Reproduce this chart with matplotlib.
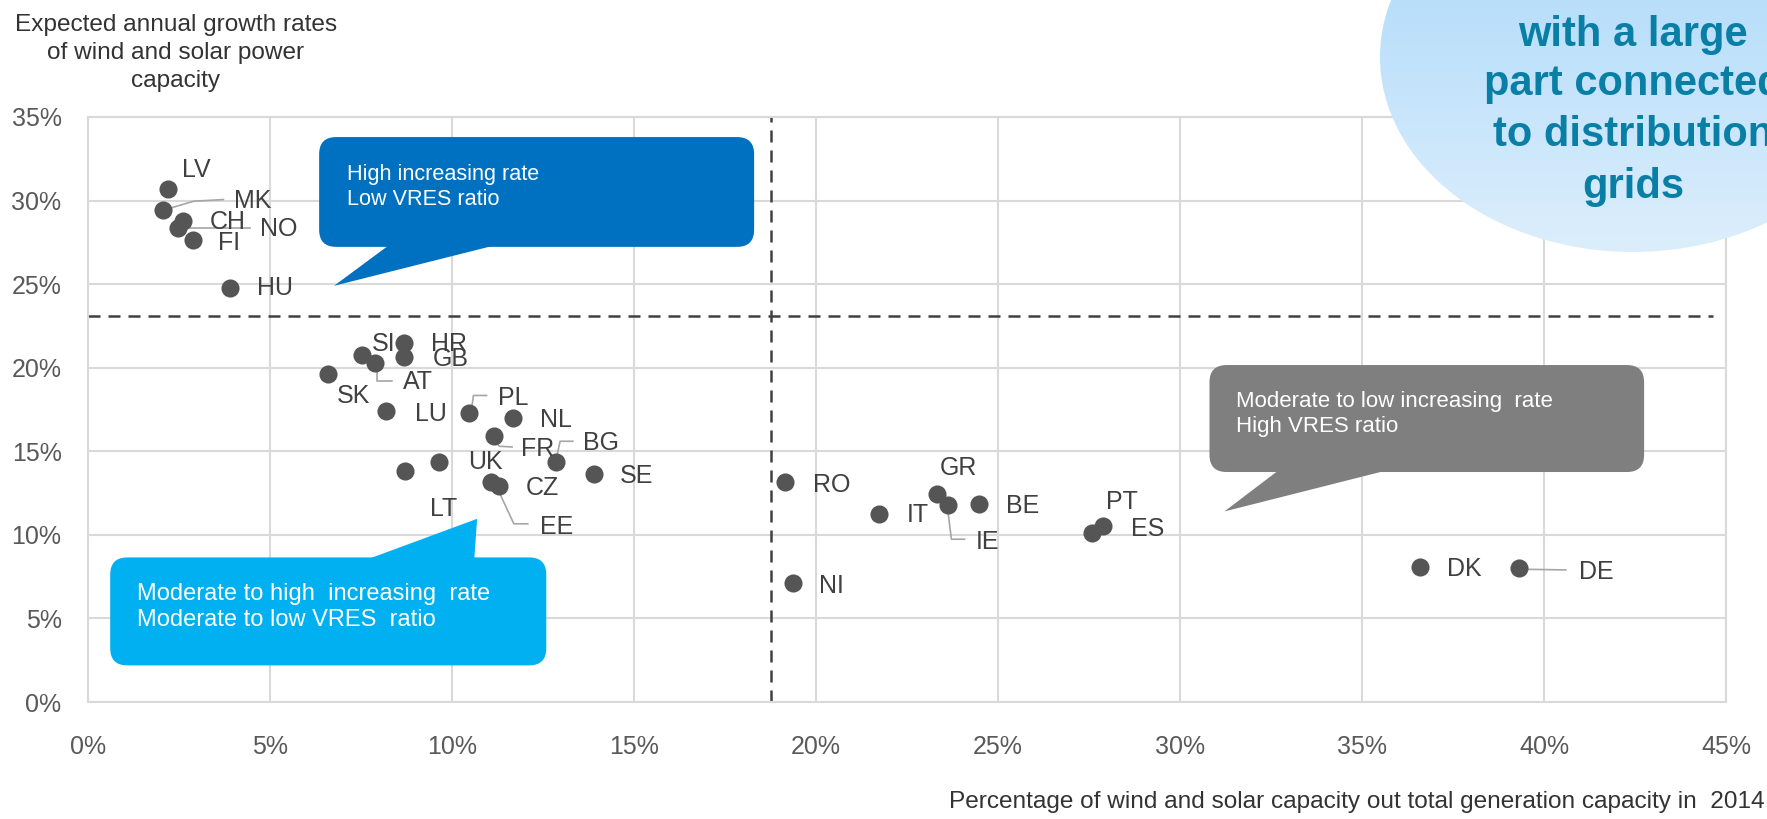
import matplotlib.pyplot as plt
import numpy as np
from matplotlib.colors import LinearSegmentedColormap
from matplotlib.patches import FancyBboxPatch, Polygon, Ellipse

plt.rcParams['font.family'] = ['Liberation Sans', 'DejaVu Sans']

# data (x: VRES share 2014, y: expected growth)
countries = ['LV', 'MK', 'CH', 'NO', 'FI', 'HU', 'SI', 'AT', 'SK', 'HR', 'GB',
             'LU', 'PL', 'NL', 'FR', 'BG', 'SE', 'UK', 'LT', 'CZ', 'EE',
             'RO', 'NI', 'IT', 'GR', 'IE', 'BE', 'ES', 'PT', 'DK', 'DE']
share = [2.19, 2.06, 2.61, 2.47, 2.88, 3.90, 7.52, 7.88, 6.60, 8.68, 8.68,
         8.19, 10.48, 11.67, 11.16, 12.86, 13.91, 9.64, 8.71, 11.30, 11.07,
         19.16, 19.36, 21.74, 23.32, 23.62, 24.48, 27.57, 27.89, 36.58, 39.32]
growth = [30.72, 29.42, 28.80, 28.35, 27.63, 24.76, 20.76, 20.26, 19.62, 21.50, 20.66,
          17.43, 17.27, 16.97, 15.91, 14.38, 13.64, 14.38, 13.84, 12.95, 13.15,
          13.14, 7.10, 11.24, 12.46, 11.80, 11.86, 10.10, 10.54, 8.06, 8.02]

x_ticks = [0, 5, 10, 15, 20, 25, 30, 35, 40, 45]
y_ticks = [0, 5, 10, 15, 20, 25, 30, 35]
split_x = 18.75
split_y = 23.09

# where each country label sits (left edge, middle)
label_pos = {
    'LV': (2.58, 31.85), 'MK': (4.02, 30.0), 'CH': (3.35, 28.7), 'NO': (4.73, 28.3),
    'FI': (3.58, 27.47), 'HU': (4.63, 24.76), 'SI': (7.81, 21.4), 'HR': (9.43, 21.4),
    'GB': (9.47, 20.5), 'AT': (8.65, 19.14), 'SK': (6.84, 18.3), 'LU': (8.97, 17.24),
    'PL': (11.25, 18.2), 'NL': (12.43, 16.9), 'FR': (11.9, 15.14), 'BG': (13.61, 15.5),
    'SE': (14.61, 13.5), 'UK': (10.45, 14.34), 'LT': (9.4, 11.54), 'CZ': (12.02, 12.8),
    'EE': (12.41, 10.5), 'RO': (19.91, 13.0), 'NI': (20.07, 6.94), 'IT': (22.48, 11.2),
    'GR': (23.41, 14.0), 'IE': (24.39, 9.6), 'BE': (25.23, 11.7), 'ES': (28.65, 10.34),
    'PT': (27.98, 11.94), 'DK': (37.34, 7.96), 'DE': (40.95, 7.76),
}
leaders = {
    'MK': [(2.06, 29.42), (2.9, 29.96), (3.72, 30.06)],
    'NO': [(2.47, 28.35), (4.45, 28.35)],
    'AT': [(7.93, 19.9), (7.93, 19.2), (8.34, 19.2)],
    'PL': [(10.52, 17.3), (10.59, 18.34), (10.95, 18.34)],
    'FR': [(11.18, 15.6), (11.3, 15.3), (11.65, 15.26)],
    'BG': [(12.88, 14.7), (12.97, 15.6), (13.32, 15.6)],
    'EE': [(11.2, 13.0), (11.7, 10.66), (12.08, 10.66)],
    'IE': [(23.62, 11.5), (23.72, 9.74), (24.08, 9.74)],
    'DE': [(39.53, 7.94), (40.6, 7.9)],
}

W, H = 1767, 819
fig = plt.figure(figsize=(W / 100, H / 100), dpi=100)
ax = fig.add_axes([88 / W, 1 - 702 / H, (1726 - 88) / W, (702 - 117) / H])
ax.set_xlim(0, 45)
ax.set_ylim(0, 35)
ax.set_xticks(x_ticks)
ax.set_yticks(y_ticks)
ax.set_xticklabels([f'{v}%' for v in x_ticks])
ax.set_yticklabels([f'{v}%' for v in y_ticks])
ax.tick_params(length=0, labelsize=18, labelcolor='#595959')
ax.tick_params(axis='x', pad=24)
ax.tick_params(axis='y', pad=19)
ax.grid(True, color='#D9D9D9', lw=1.5)
ax.set_axisbelow(True)
for s in ax.spines.values():
    s.set_color('#D9D9D9')
    s.set_linewidth(1.5)

ax.axhline(split_y, xmax=44.64 / 45, color='#404040', lw=1.8, dashes=(4.8, 3.2), zorder=2)
ax.axvline(split_x, color='#404040', lw=1.8, dashes=(4.8, 3.2), zorder=2)

for c, pts in leaders.items():
    xs, ys = zip(*pts)
    ax.plot(xs, ys, color='#A6A6A6', lw=1.2, zorder=3)

ax.scatter(share, growth, s=170, color='#555555', zorder=4, linewidths=0)
for c in countries:
    lx, ly = label_pos[c]
    ax.text(lx, ly, c, fontsize=18, color='#404040', ha='left', va='center', zorder=5)

# callout boxes
aspect = (5 / 83.57) / (5 / 182.0)


def callout(x0, y0, x1, y1, tri, color, lines, tx, ty, size):
    box = FancyBboxPatch((x0, y0), x1 - x0, y1 - y0,
                         boxstyle='round,pad=0,rounding_size=0.47',
                         mutation_aspect=aspect, fc=color, ec='none', zorder=6)
    ax.add_patch(box)
    ax.add_patch(Polygon(tri, closed=True, fc=color, ec='none', zorder=6))
    ax.text(tx, ty, lines, fontsize=size, color='white', ha='left', va='center',
            linespacing=1.25, zorder=7)


callout(6.35, 27.23, 18.30, 33.8,
        [(8.31, 27.4), (11.32, 27.4), (6.76, 24.9)], '#0070C0',
        'High increasing rate\nLow VRES ratio', 7.11, 30.82, 15.6)
callout(0.61, 2.19, 12.59, 8.65,
        [(7.63, 8.5), (10.61, 8.5), (10.69, 10.96)], '#00B0F0',
        'Moderate to high  increasing  rate\nModerate to low VRES  ratio', 1.35, 5.7, 17)
callout(30.81, 13.76, 42.75, 20.16,
        [(32.73, 13.9), (35.76, 13.9), (31.22, 11.4)], '#7F7F7F',
        'Moderate to low increasing  rate\nHigh VRES ratio', 31.54, 17.21, 16)

fig.text(176 / W, 1 - 53 / H,
         'Expected annual growth rates\nof wind and solar power\ncapacity',
         ha='center', va='center', fontsize=17.6, color='#333333', linespacing=1.35)
fig.text(1765 / W, 1 - 802 / H,
         'Percentage of wind and solar capacity out total generation capacity in  2014',
         ha='right', va='center', fontsize=17.6, color='#333333')

# light-blue bubble in the top right corner
ov = fig.add_axes([0, 0, 1, 1])
ov.axis('off')
cx, cy, a, b = 1633, 57, 253, 195
ell = Ellipse((cx, cy), 2 * a, 2 * b, fc='none', ec='none')
ov.add_patch(ell)
cmap = LinearSegmentedColormap.from_list('bub', ['#A5D6FA', '#DCEEFC'])
grad = np.linspace(0, 1, 256).reshape(-1, 1)
img = ov.imshow(grad, cmap=cmap, aspect='auto', origin='upper',
                extent=[cx - a, cx + a, cy + b, cy - b], zorder=1)
img.set_clip_path(ell)
ov.set_xlim(0, W)
ov.set_ylim(H, 0)
for txt, yy in zip(['with a large', 'part connected', 'to distribution', 'grids'],
                   [35, 84, 135, 187]):
    ov.text(cx, yy, txt, ha='center', va='center', fontsize=30, fontweight='bold',
            color='#0A7FA6', zorder=2)

fig.savefig('out.png', dpi=100)
